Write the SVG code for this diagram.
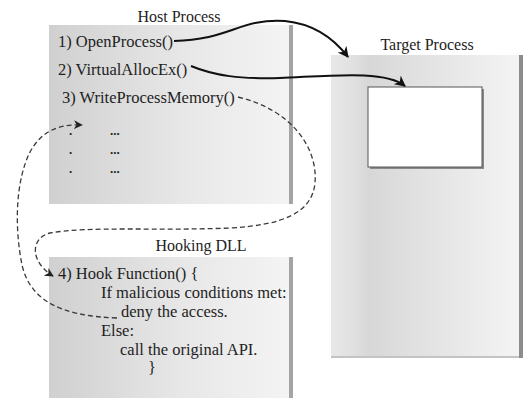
<svg xmlns="http://www.w3.org/2000/svg" width="525" height="398" viewBox="0 0 525 398">
  <style>
    text { font-family: "Liberation Serif", "Times New Roman", serif; fill: #1e1e1e; }
    .title { font-size: 16px; text-anchor: middle; }
    .item { font-size: 16.5px; }
    .dots { font-size: 13px; font-weight: bold; }
    .call { fill: none; stroke: #111; stroke-width: 2; }
    .flow { fill: none; stroke: #3a3a3a; stroke-width: 1.3; stroke-dasharray: 5 3; }
    .shadow { fill: #a4a4a4; }
  </style>
  <defs>
    <linearGradient id="procFill" x1="0" y1="0" x2="1" y2="0">
      <stop offset="0" stop-color="#d0d0d0"/>
      <stop offset="0.55" stop-color="#e7e7e7"/>
      <stop offset="1" stop-color="#f4f4f4"/>
    </linearGradient>
    <linearGradient id="targetFill" x1="0" y1="0" x2="1" y2="0">
      <stop offset="0" stop-color="#e8e8e8"/>
      <stop offset="0.12" stop-color="#e0e0e0"/>
      <stop offset="0.2" stop-color="#d7d7d7"/>
      <stop offset="0.4" stop-color="#dfdfdf"/>
      <stop offset="1" stop-color="#f4f4f4"/>
    </linearGradient>
    <marker id="solidHead" viewBox="0 0 10 10" refX="9" refY="5" markerWidth="11" markerHeight="11" markerUnits="userSpaceOnUse" orient="auto">
      <path d="M0,0 L10,5 L0,10 L3,5 Z" fill="#111"/>
    </marker>
    <marker id="dashHead" viewBox="0 0 10 10" refX="9" refY="5" markerWidth="9" markerHeight="9" markerUnits="userSpaceOnUse" orient="auto">
      <path d="M0,0 L10,5 L0,10 L3,5 Z" fill="#222"/>
    </marker>
  </defs>

  <!-- Host Process -->
  <g id="host-process">
    <text class="title" x="179" y="22">Host Process</text>
    <rect x="49" y="25" width="241" height="179" fill="url(#procFill)"/>
    <rect class="shadow" x="289" y="25" width="4" height="179"/>
    <text class="item" x="58" y="47">1) OpenProcess()</text>
    <text class="item" x="58" y="75">2) VirtualAllocEx()</text>
    <text class="item" x="62" y="103">3) WriteProcessMemory()</text>
    <text class="dots" x="69" y="135">.</text>
    <text class="dots" x="69" y="154">.</text>
    <text class="dots" x="69" y="173">.</text>
    <text class="dots" x="110" y="135">...</text>
    <text class="dots" x="110" y="154">...</text>
    <text class="dots" x="110" y="173">...</text>
  </g>

  <!-- Target Process -->
  <g id="target-process">
    <text class="title" x="427" y="50">Target Process</text>
    <rect x="331" y="55" width="189" height="302" fill="url(#targetFill)"/>
    <rect x="331" y="356" width="192" height="2" fill="#c4c4c4"/>
    <rect x="519" y="55" width="4" height="303" fill="#8c8c8c"/>
  </g>

  <!-- Allocated memory region inside the target -->
  <g id="remote-buffer">
    <rect x="370" y="89" width="114" height="80" fill="#8a8a8a"/>
    <rect x="368" y="87" width="114" height="80" fill="#ffffff" stroke="#555" stroke-width="1"/>
  </g>

  <!-- Hooking DLL -->
  <g id="hooking-dll">
    <text class="title" x="201" y="251">Hooking DLL</text>
    <rect x="49" y="257" width="241" height="145" fill="url(#procFill)"/>
    <rect class="shadow" x="289" y="257" width="4" height="145"/>
    <text class="item" x="58" y="279">4) Hook Function() {</text>
    <text class="item" x="101" y="298">If malicious conditions met:</text>
    <text class="item" x="121" y="317">deny the access.</text>
    <text class="item" x="101" y="336">Else:</text>
    <text class="item" x="120" y="355">call the original API.</text>
    <text class="item" x="148" y="373">}</text>
  </g>

  <!-- Connectors -->
  <g id="connectors">
    <path class="call" d="M174,41 C230,40 240,18 285,21 C315,24 335,40 348,57" marker-end="url(#solidHead)"/>
    <path class="call" d="M191,66 C215,76 240,79 280,78 C330,76 385,70 405,86" marker-end="url(#solidHead)"/>
    <path class="flow" d="M238,97 C292,110 318,148 315,183 C312,213 283,225 230,228 C160,231 90,226 50,233 C30,238 30,262 53,276" marker-end="url(#dashHead)"/>
    <path class="flow" d="M117,318 C60,316 30,300 22,265 C14,225 16,180 30,152 C42,130 60,124 82,125" marker-end="url(#dashHead)"/>
  </g>
</svg>
